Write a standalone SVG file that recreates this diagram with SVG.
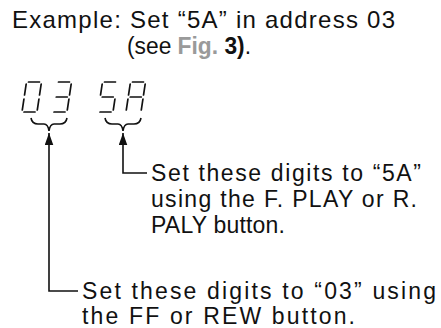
<svg xmlns="http://www.w3.org/2000/svg" width="441" height="328" viewBox="0 0 441 328">
<style>
text{font-family:"Liberation Sans",Arial,sans-serif;fill:#111}
.t{font-size:24px}
.s{font-size:23px}
.b{font-size:23px}
.seg{stroke:#111;stroke-width:1.7;stroke-linecap:round;fill:none}
.ln{stroke:#111;stroke-width:1.6;fill:none}
</style>
<defs>
<marker id="ah2" viewBox="0 0 14 10" refX="14" refY="5" markerWidth="12" markerHeight="9" markerUnits="userSpaceOnUse" orient="auto"><path d="M0,0 L14,5 L0,10 z" fill="#111"/></marker>
</defs>
<g id="title">
<text class="t" x="12" y="28" textLength="383" lengthAdjust="spacing">Example: Set “5A” in address 03</text>
<text class="s" x="127" y="54" textLength="124" lengthAdjust="spacingAndGlyphs">(see <tspan font-weight="bold" fill="#9a9a9a">Fig.</tspan> <tspan font-weight="bold">3)</tspan>.</text>
</g>
<g id="display-03">
<g transform="translate(22,112) skewX(-8.5)" class="seg">
<path d="M2,-30 H13 M15,-28 V-17 M15,-13 V-2 M2,0 H13 M0,-13 V-2 M0,-28 V-17"/>
</g>
<g transform="translate(52,112) skewX(-8.5)" class="seg">
<path d="M2,-30 H13 M15,-28 V-17 M15,-13 V-2 M2,0 H13 M2,-15 H13"/>
</g>
<path class="ln" d="M31,118 Q32,124 38,124 L44,124 Q48,124 49,131 Q50,124 54,124 L60,124 Q66,124 67,118"/>
</g>
<g id="display-5A">
<g transform="translate(98,112) skewX(-8.5)" class="seg">
<path d="M2,-30 H13 M0,-28 V-17 M2,-15 H13 M15,-13 V-2 M2,0 H13"/>
</g>
<g transform="translate(126,112) skewX(-8.5)" class="seg">
<path d="M2,-30 H13 M15,-28 V-17 M15,-13 V-2 M0,-13 V-2 M0,-28 V-17 M2,-15 H13"/>
</g>
<path class="ln" d="M105,118 Q106,124 112,124 L118,124 Q122,124 123,131 Q124,124 128,124 L134,124 Q140,124 141,118"/>
</g>
<g id="note-5A">
<text class="b" x="151" y="181" textLength="270" lengthAdjust="spacing">Set these digits to “5A”</text>
<text class="b" x="151" y="207" textLength="266" lengthAdjust="spacing">using the F. PLAY or R.</text>
<text class="b" x="151" y="233" textLength="134" lengthAdjust="spacing">PALY button.</text>
</g>
<g id="note-03">
<text class="b" x="82" y="299" textLength="354" lengthAdjust="spacing">Set these digits to “03” using</text>
<text class="b" x="82" y="324" textLength="273" lengthAdjust="spacing">the FF or REW button.</text>
</g>
<g id="connectors">
<path class="ln" d="M147,173 H123 V133" marker-end="url(#ah2)"/>
<path class="ln" d="M78,291 H49 V133" marker-end="url(#ah2)"/>
</g>
</svg>
